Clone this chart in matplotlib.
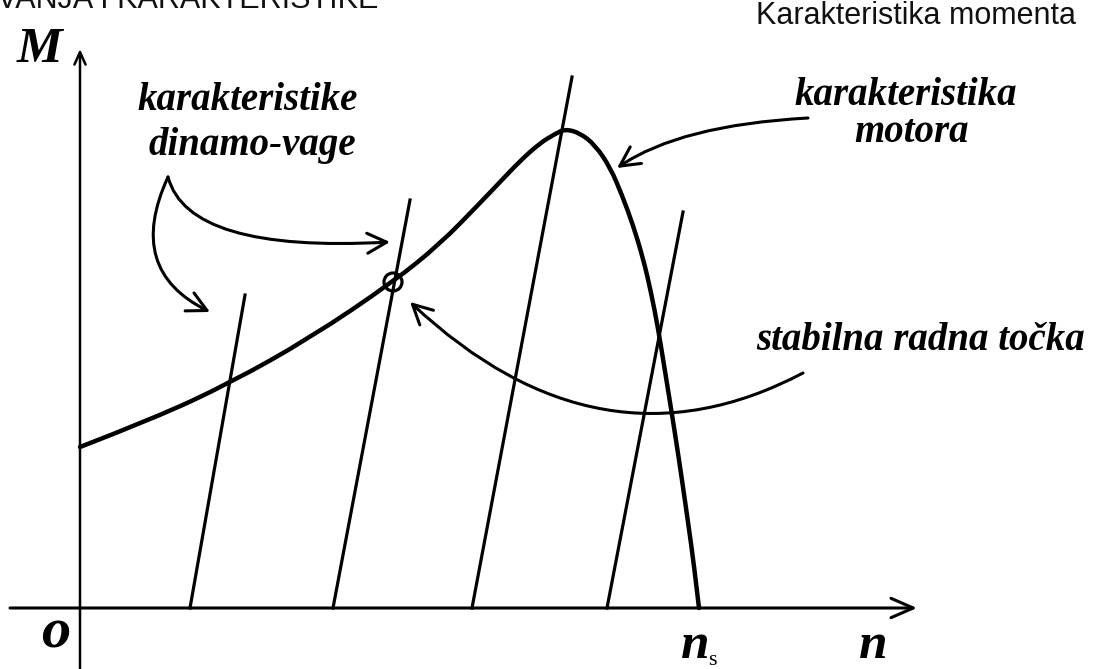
import matplotlib
matplotlib.use('Agg')
import matplotlib.pyplot as plt
from matplotlib.patches import FancyArrowPatch, Circle, PathPatch
from matplotlib.path import Path

# motor torque characteristic (arbitrary units, n_s = 619)
motor_n = [0, 75, 150, 230, 313, 360, 400, 420, 440, 460, 475, 485,
           500, 515, 530, 542, 553, 563, 571, 578, 584, 590, 596, 602, 608, 614, 619]
motor_M = [161, 190, 225, 270, 326, 364, 405, 426, 447, 465, 474, 479,
           475, 463, 441, 413, 383, 350, 316, 280, 243, 206, 168, 128, 86, 43, 0]

# dynamo-scale load lines: start on n axis, end point (n, M)
dyn_n0 = [110, 253, 392, 527]
dyn_n1 = [165, 330, 492, 603]
dyn_M1 = [313, 408, 531, 396]

stable_n, stable_M = 313, 326
n_s = 619

# curved pointer arrows: start, control, end
arrows = [
    [(88, 431), (108, 355), (310, 366)],
    [(88, 431), (45, 338), (130, 296)],
    [(728, 490), (600, 483), (537, 440)],
    [(723, 235), (520, 128), (330, 306)],
]

serif = 'Liberation Serif'
fig = plt.figure(figsize=(10.97, 6.69), dpi=100)
ax = fig.add_axes([0, 0, 1, 1])
ax.set_xlim(-80, 1017)
ax.set_ylim(-61, 608)
ax.axis('off')

# axes with arrows
ax.annotate('', xy=(837, 0), xytext=(-70, 0),
            arrowprops=dict(arrowstyle='->,head_length=0.8,head_width=0.35', lw=2.2,
                            color='black', mutation_scale=20, shrinkA=0, shrinkB=0))
ax.annotate('', xy=(0, 559), xytext=(0, -61),
            arrowprops=dict(arrowstyle='->,head_length=0.45,head_width=0.2', lw=1.8,
                            color='black', mutation_scale=20, shrinkA=0, shrinkB=0))

# smooth motor curve: quadratic spline through the read points
pts = list(zip(motor_n, motor_M))
verts = [pts[0]]
codes = [Path.MOVETO]
for i in range(1, len(pts) - 2):
    mid = ((pts[i][0] + pts[i + 1][0]) / 2, (pts[i][1] + pts[i + 1][1]) / 2)
    verts += [pts[i], mid]
    codes += [Path.CURVE3, Path.CURVE3]
verts += [pts[-2], pts[-1]]
codes += [Path.CURVE3, Path.CURVE3]
ax.add_patch(PathPatch(Path(verts, codes), fill=False, lw=3.2, edgecolor='black',
                       capstyle='round'))

for a, b, m in zip(dyn_n0, dyn_n1, dyn_M1):
    ax.plot([a, b], [0, m], color='black', lw=2.3)

ax.add_patch(Circle((stable_n, stable_M), 9, fill=False, lw=2.3, color='black'))

for p0, p1, p2 in arrows:
    path = Path([p0, p1, p2], [Path.MOVETO, Path.CURVE3, Path.CURVE3])
    ax.add_patch(FancyArrowPatch(path=path, arrowstyle='->,head_length=0.7,head_width=0.36',
                                 mutation_scale=20, lw=2.2, color='black'))

bi = dict(family=serif, style='italic', weight='bold', color='black')
ax.text(-41, 546, 'M', fontsize=37, ha='center', va='baseline', **bi)
ax.text(-24, -39, 'o', fontsize=42, ha='center', va='baseline', **bi)
ax.text(615, -50, 'n', fontsize=37, ha='center', va='baseline', **bi)
ax.text(632, -57, 's', fontsize=16, ha='center', va='baseline', family=serif, color='black')
ax.text(793, -50, 'n', fontsize=37, ha='center', va='baseline', **bi)

ax.text(168, 498, 'karakteristike', fontsize=28, ha='center', va='baseline', **bi)
ax.text(172, 453, 'dinamo-vage', fontsize=28, ha='center', va='baseline', **bi)
ax.text(826, 503, 'karakteristika', fontsize=28, ha='center', va='baseline', **bi)
ax.text(832, 466, 'motora', fontsize=28, ha='center', va='baseline', **bi)
ax.text(841, 258, 'stabilna radna točka', fontsize=28, ha='center', va='baseline', **bi)

ax.text(836, 584, 'Karakteristika momenta', fontsize=22, ha='center', va='baseline',
        family='Liberation Sans', color='#111111')
# page heading, cut off by the top edge as in the source slide
ax.text(298, 600, 'TIVANJA I KARAKTERISTIKE', fontsize=22, ha='right', va='baseline',
        family='Liberation Sans', color='#111111', clip_on=True)

fig.savefig('out.png', dpi=100, facecolor='white')
